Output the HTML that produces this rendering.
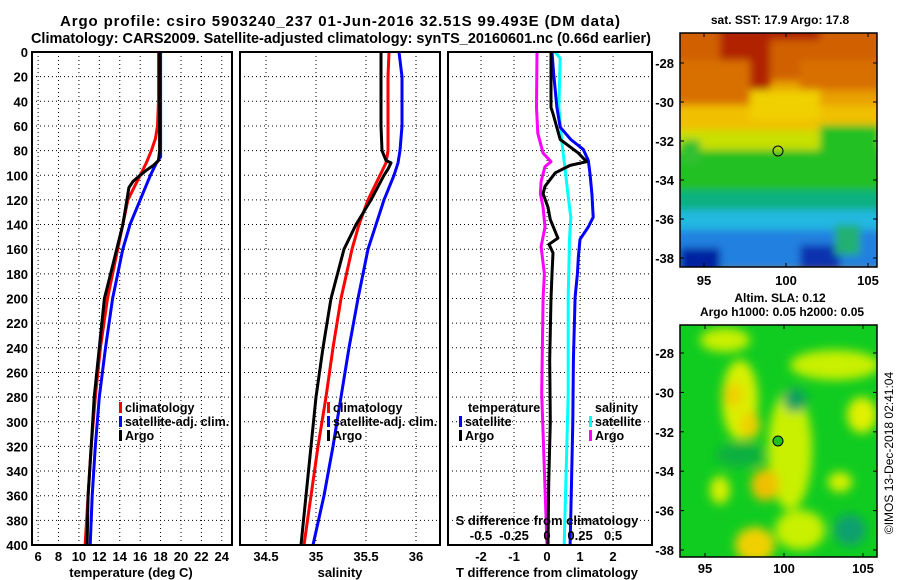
<!DOCTYPE html>
<html><head><meta charset="utf-8"><style>
html,body{margin:0;padding:0;background:#fff;}
svg{display:block;font-family:"Liberation Sans",sans-serif;font-weight:bold;}
</style></head><body>
<svg id="root" width="900" height="580" viewBox="0 0 900 580" xmlns="http://www.w3.org/2000/svg">
<defs>
<filter id="blur4" x="-20%" y="-20%" width="140%" height="140%"><feGaussianBlur stdDeviation="5"/></filter>
<filter id="blur2" x="-10%" y="-10%" width="120%" height="120%"><feGaussianBlur stdDeviation="4"/></filter>
<clipPath id="clipMap1"><rect x="680" y="33" width="197" height="234"/></clipPath>
<clipPath id="clipMap2"><rect x="680" y="325" width="197" height="232"/></clipPath>
</defs>
<text x="340" y="26" font-size="15" text-anchor="middle" textLength="560" lengthAdjust="spacing">Argo profile: csiro 5903240_237 01-Jun-2016 32.51S 99.493E (DM data)</text>
<text x="341" y="43" font-size="15" text-anchor="middle" textLength="620" lengthAdjust="spacingAndGlyphs">Climatology: CARS2009. Satellite-adjusted climatology: synTS_20160601.nc (0.66d earlier)</text>

<g id="maps">
<g clip-path="url(#clipMap1)">
<rect x="680" y="33" width="197" height="234" fill="#e8a000"/>
<g filter="url(#blur2)">
<rect x="670" y="20" width="220" height="60" fill="#d06000"/>
<rect x="720" y="25" width="50" height="70" fill="#b02000"/>
<rect x="760" y="25" width="60" height="15" fill="#b02000"/>
<rect x="670" y="60" width="80" height="50" fill="#d87000"/>
<rect x="800" y="60" width="90" height="30" fill="#d87000"/>
<rect x="670" y="105" width="220" height="40" fill="#f0c000"/>
<rect x="750" y="90" width="70" height="30" fill="#f0d000"/>
<rect x="670" y="130" width="220" height="40" fill="#c8e000"/>
<rect x="670" y="150" width="220" height="55" fill="#20c020"/>
<rect x="820" y="125" width="60" height="45" fill="#20c020"/>
<rect x="680" y="140" width="20" height="25" fill="#30c030"/>
<rect x="670" y="190" width="220" height="40" fill="#10b080"/>
<rect x="670" y="210" width="220" height="30" fill="#20b8e0"/>
<rect x="670" y="230" width="220" height="40" fill="#2080e0"/>
<rect x="680" y="248" width="40" height="25" fill="#0020a0"/>
<rect x="800" y="245" width="40" height="25" fill="#1030b0"/>
<rect x="835" y="225" width="25" height="30" fill="#20b070"/>
</g>
</g>
<rect x="680" y="33" width="197" height="234" fill="none" stroke="#000" stroke-width="1.5"/>
<circle cx="778" cy="151" r="5" fill="none" stroke="#000" stroke-width="1"/>
<text x="780" y="24" font-size="12" text-anchor="middle">sat. SST: 17.9 Argo: 17.8</text>
<text x="780" y="302" font-size="12" text-anchor="middle">Altim. SLA: 0.12</text>
<text x="782" y="316" font-size="12" text-anchor="middle">Argo h1000: 0.05 h2000: 0.05</text>

<g clip-path="url(#clipMap2)">
<rect x="680" y="325" width="197" height="232" fill="#10cc20"/>
<g filter="url(#blur4)">
<ellipse cx="740" cy="400" rx="18" ry="40" fill="#d8f000"/>
<ellipse cx="733" cy="395" rx="10" ry="12" fill="#f0d000"/>
<ellipse cx="750" cy="425" rx="10" ry="14" fill="#f0d000"/>
<ellipse cx="790" cy="450" rx="22" ry="60" fill="#c8f000"/>
<ellipse cx="765" cy="485" rx="14" ry="16" fill="#f0c000"/>
<ellipse cx="835" cy="365" rx="45" ry="15" fill="#c8f000"/>
<ellipse cx="862" cy="415" rx="15" ry="18" fill="#e0f000"/>
<ellipse cx="720" cy="490" rx="10" ry="14" fill="#d8f000"/>
<ellipse cx="840" cy="482" rx="12" ry="10" fill="#d8f000"/>
<ellipse cx="755" cy="545" rx="20" ry="18" fill="#f0d000"/>
<ellipse cx="800" cy="530" rx="25" ry="20" fill="#c8f000"/>
<ellipse cx="725" cy="340" rx="25" ry="12" fill="#c8f000"/>
<ellipse cx="795" cy="400" rx="12" ry="12" fill="#10a060"/>
<ellipse cx="850" cy="530" rx="16" ry="16" fill="#10a070"/>
<ellipse cx="740" cy="455" rx="25" ry="12" fill="#10b040"/>
</g>
</g>
<rect x="680" y="325" width="197" height="232" fill="none" stroke="#000" stroke-width="1.5"/>
<circle cx="778" cy="441" r="5" fill="#20c020" stroke="#000" stroke-width="1"/>
<text x="893" y="453" font-size="12" font-weight="normal" text-anchor="middle" transform="rotate(-90 893 453)">©IMOS 13-Dec-2018 02:41:04</text>
</g>
<g id="plots"></g>
</svg>
<script>
// ---------- data ----------
const tArgoDepth = [0,20,40,60,80,88,92,96,100,105,110,120,130,140,160,180,200,240,280,320,360,400];
const tArgoVal   = [17.9,17.9,17.9,17.9,17.9,17.8,17.3,16.6,16.0,15.3,14.9,14.7,14.5,14.3,13.7,13.1,12.5,12.0,11.5,11.2,10.9,10.8];
const tClimDepth = [0,20,40,60,70,80,90,100,110,120,140,160,200,240,280,320,360,400];
const tClimVal   = [17.8,17.8,17.8,17.7,17.5,17.1,16.6,16.0,15.4,14.8,14.3,13.8,12.8,12.1,11.6,11.2,10.9,10.6];
const tSatDepth  = [0,85,90,100,110,120,130,140,160,180,200,240,280,320,360,400];
const tSatVal    = [18,18,17.6,17,16.5,16,15.5,15.0,14.3,13.8,13.3,12.6,12.0,11.6,11.3,11.1];

const sArgoDepth = [0,20,40,60,80,88,90,95,100,120,140,160,200,240,280,320,360,400];
const sArgoVal   = [35.65,35.65,35.65,35.65,35.66,35.7,35.75,35.72,35.68,35.55,35.4,35.28,35.15,35.07,35.0,34.95,34.9,34.85];
const sClimDepth = [0,20,60,80,90,100,120,140,160,200,240,280,320,360,400];
const sClimVal   = [35.73,35.72,35.72,35.72,35.7,35.64,35.52,35.43,35.36,35.25,35.17,35.1,35.02,34.95,34.88];
const sSatDepth  = [0,20,60,80,90,100,120,140,160,200,240,280,320,360,400];
const sSatVal    = [35.83,35.86,35.86,35.84,35.82,35.78,35.68,35.6,35.52,35.42,35.33,35.25,35.17,35.08,34.97];

const dTArgoDepth = [0,45,50,71,82,89,92,98,109,115,126,136,151,156,163,180,200,250,300,350,400];
const dTArgoVal   = [0.12,0.12,0.18,0.4,0.95,1.2,0.7,0.25,-0.06,-0.12,0.03,0.1,0.33,0.06,0.18,0.15,0.12,0.08,0.1,0.05,0.03];
const dTSatDepth  = [0,17,45,61,71,79,88,98,115,134,142,152,166,180,199,250,300,350,400];
const dTSatVal    = [0.15,0.2,0.3,0.4,0.72,1.1,1.25,1.3,1.36,1.4,1.25,1.0,0.95,0.92,0.85,0.8,0.78,0.74,0.7];
const dSSatDepth  = [0,5,45,71,98,126,134,152,199,277,400];
const dSSatVal    = [0.06,0.1,0.09,0.11,0.14,0.17,0.18,0.17,0.16,0.16,0.13];
const dSArgoDepth = [0,45,66,82,89,93,105,115,126,142,158,180,199,277,340,400];
const dSArgoVal   = [-0.076,-0.08,-0.07,-0.03,0.03,-0.015,-0.045,-0.05,-0.03,-0.015,-0.045,-0.02,-0.03,-0.04,-0.02,0.0];

const depthTicks = [0,20,40,60,80,100,120,140,160,180,200,220,240,260,280,300,320,340,360,380,400];
const tTicks = [6,8,10,12,14,16,18,20,22,24];
const sTicks = [34.5,35,35.5,36];
const sTickLabels = ["34.5","35","35.5","36"];
const dTTicks = [-2,-1,0,1,2];
const dSTicks = [-0.5,-0.25,0,0.25,0.5];
const dSTickLabels = ["-0.5","-0.25","0","0.25","0.5"];
const lat1Ticks = [-28,-30,-32,-34,-36,-38];
const lonTicks = [95,100,105];

// ---------- helpers ----------
const NS = "http://www.w3.org/2000/svg";
const plots = document.getElementById('plots');
const PT = 52, PB = 545;
const FS = 13;
const yD = d => PT + d * (PB - PT) / 400;
function mk(tag, attrs, parent) {
  const e = document.createElementNS(NS, tag);
  for (const k in attrs) e.setAttribute(k, attrs[k]);
  (parent || plots).appendChild(e);
  return e;
}
function txt(x, y, s, size, anchor, fill) {
  const t = mk('text', {x: x, y: y, 'font-size': size, 'text-anchor': anchor || 'middle', fill: fill || '#000'});
  t.textContent = s;
  return t;
}
function panel(x0, x1, name) {
  const g = mk('g', {});
  
  
  return g;
}
function hgrid(x0, x1, g) {
  depthTicks.forEach(d => {
    if (d === 0 || d === 400) return;
    const l = mk('line', {x1: x0, x2: x1, y1: yD(d), y2: yD(d), stroke: '#000', 'stroke-width': 1, 'stroke-dasharray': '1 3'}, g);
    
    
  });
}
function vgrid(xs, g) {
  xs.forEach(x => {
    const l = mk('line', {x1: x, x2: x, y1: PT, y2: PB, stroke: '#000', 'stroke-width': 1, 'stroke-dasharray': '1 3'}, g);
    
    
  });
}
function line(depths, vals, xf, color, name, g, w) {
  const pts = depths.map((d, i) => xf(vals[i]).toFixed(1) + ',' + yD(d).toFixed(1)).join(' ');
  const p = mk('polyline', {points: pts, fill: 'none', stroke: color, 'stroke-width': w || 3, 'stroke-linejoin': 'round'}, g);
  
  
}
function frame(x0, x1, name) {
  const r = mk('rect', {x: x0, y: PT, width: x1 - x0, height: PB - PT, fill: 'none', stroke: '#000', 'stroke-width': 2});
  
  
}
function legendEntry(x, y, color, label, name) {
  const r = mk('rect', {x: x, y: y - 10, width: 3, height: 11, fill: color});
  
  
  const t = txt(x + 6, y, label, 12.5, 'start');
  
  
}

// ---------- panel 1 temperature ----------
const P1 = [32, 232], T0 = 5.4, T1 = 25;
const xT = v => P1[0] + (v - T0) * (P1[1] - P1[0]) / (T1 - T0);
const g1 = panel(P1[0], P1[1], 'temperature-panel');
hgrid(P1[0], P1[1], g1);
vgrid(tTicks.map(xT), g1);
line(tClimDepth, tClimVal, xT, '#ff0000', 'temperature-climatology-line', g1);
line(tSatDepth, tSatVal, xT, '#0000ff', 'temperature-satellite-line', g1);
line(tArgoDepth, tArgoVal, xT, '#000000', 'temperature-argo-line', g1);
frame(P1[0], P1[1], 'temperature-panel-frame');
depthTicks.forEach(d => {
  const t = txt(28, yD(d) + 5, String(d), FS, 'end');
  
  
});
tTicks.forEach(v => {
  const t = txt(xT(v), 561, String(v), FS);
  
  
});
const tt1 = txt(131, 577, 'temperature (deg C)', FS);


legendEntry(119, 412, '#ff0000', 'climatology', 'legend-climatology');
legendEntry(119, 426, '#0000ff', 'satellite-adj. clim.', 'legend-satellite-adj');
legendEntry(119, 440, '#000000', 'Argo', 'legend-argo');

// ---------- panel 2 salinity ----------
const P2 = [240, 440], S0 = 34.24, S1 = 36.24;
const xS = v => P2[0] + (v - S0) * (P2[1] - P2[0]) / (S1 - S0);
const g2 = panel(P2[0], P2[1], 'salinity-panel');
hgrid(P2[0], P2[1], g2);
vgrid(sTicks.map(xS), g2);
line(sClimDepth, sClimVal, xS, '#ff0000', 'salinity-climatology-line', g2);
line(sSatDepth, sSatVal, xS, '#0000ff', 'salinity-satellite-line', g2);
line(sArgoDepth, sArgoVal, xS, '#000000', 'salinity-argo-line', g2);
frame(P2[0], P2[1], 'salinity-panel-frame');
sTicks.forEach((v, i) => {
  const t = txt(xS(v), 561, sTickLabels[i], FS);
  
  
});
const tt2 = txt(340, 577, 'salinity', FS);


legendEntry(327, 412, '#ff0000', 'climatology', 'legend-climatology-2');
legendEntry(327, 426, '#0000ff', 'satellite-adj. clim.', 'legend-satellite-adj-2');
legendEntry(327, 440, '#000000', 'Argo', 'legend-argo-2');

// ---------- panel 3 differences ----------
const P3 = [448, 652], D0 = -3, D1 = 3.18;
const xDT = v => P3[0] + (v - D0) * (P3[1] - P3[0]) / (D1 - D0);
const xDS = v => xDT(v * 4);
const g3 = panel(P3[0], P3[1], 'difference-panel');
hgrid(P3[0], P3[1], g3);
vgrid(dTTicks.map(xDT), g3);
line(dSArgoDepth, dSArgoVal, xDS, '#ff00ff', 'salinity-argo-diff-line', g3);
line(dSSatDepth, dSSatVal, xDS, '#00ffff', 'salinity-satellite-diff-line', g3);
line(dTSatDepth, dTSatVal, xDT, '#0000ff', 'temperature-satellite-diff-line', g3);
line(dTArgoDepth, dTArgoVal, xDT, '#000000', 'temperature-argo-diff-line', g3);
frame(P3[0], P3[1], 'difference-panel-frame');
dTTicks.forEach(v => {
  const t = txt(xDT(v), 561, String(v), FS);
  
  
});
dSTicks.forEach((v, i) => {
  const t = txt(xDS(v), 540, dSTickLabels[i], FS);
  
  
});
const st = txt(547, 525, 'S difference from climatology', FS);


const tt3 = txt(547, 577, 'T difference from climatology', FS);


const lt = txt(468, 412, 'temperature', 12.5, 'start');


legendEntry(459, 426, '#0000ff', 'satellite', 'legend-t-satellite');
legendEntry(459, 440, '#000000', 'Argo', 'legend-t-argo');
const ls = txt(595, 412, 'salinity', 12.5, 'start');


legendEntry(589, 426, '#00ffff', 'satellite', 'legend-s-satellite');
legendEntry(589, 440, '#ff00ff', 'Argo', 'legend-s-argo');

// ---------- map axes ----------
function mapAxes(top, bottom, lat28, lat38, lon95, lon105, labelY) {
  const yL = v => lat28 + (v + 28) * (lat38 - lat28) / (-10);
  const xL = v => lon95 + (v - 95) * (lon105 - lon95) / 10;
  lat1Ticks.forEach(v => {
    const t = txt(674, yL(v) + 5, String(v), FS, 'end');
    
    
    mk('line', {x1: 680, x2: 684, y1: yL(v), y2: yL(v), stroke: '#000'});
    mk('line', {x1: 873, x2: 877, y1: yL(v), y2: yL(v), stroke: '#000'});
  });
  lonTicks.forEach(v => {
    const t = txt(xL(v), labelY, String(v), FS);
    
    
    mk('line', {x1: xL(v), x2: xL(v), y1: top, y2: top + 4, stroke: '#000'});
    mk('line', {x1: xL(v), x2: xL(v), y1: bottom - 4, y2: bottom, stroke: '#000'});
  });
}
mapAxes(33, 267, 63, 258, 704, 868, 285);
mapAxes(325, 557, 353, 550, 705, 863, 573);
</script>
</body></html>
